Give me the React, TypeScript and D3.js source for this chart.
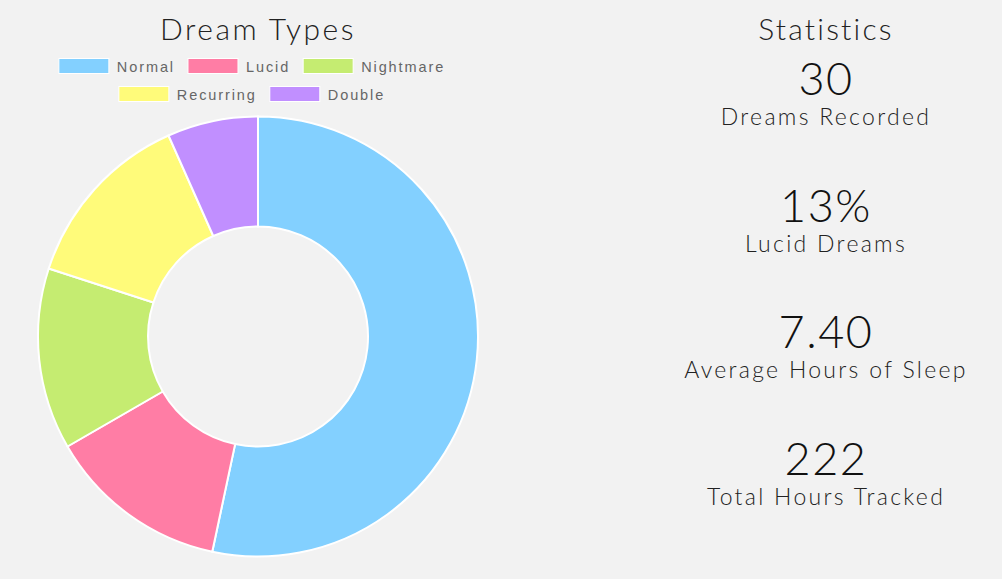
import React from "react";
import * as d3 from "d3";

const categories = ["Normal", "Lucid", "Nightmare", "Recurring", "Double"];
const counts = [16, 4, 4, 4, 2];
const colors = ["#83d0ff", "#ff7da5", "#c5ec71", "#fffb7a", "#c18fff"];
const statValues = ["30", "13%", "7.40", "222"];
const statLabels = ["Dreams Recorded", "Lucid Dreams", "Average Hours of Sleep", "Total Hours Tracked"];

const W = 1002;
const H = 579;
const cx = 258;
const cy = 336.5;
const outerR = 220;
const innerR = 110;

export default function App() {
  const pie = d3.pie<number>().sort(null).value((d) => d)(counts);
  const arc = d3.arc<d3.PieArcDatum<number>>().innerRadius(innerR).outerRadius(outerR);
  const font = "Lato, 'Open Sans', sans-serif";
  const legendRows = [[0, 1, 2], [3, 4]];
  const ctx = typeof document !== "undefined" ? document.createElement("canvas").getContext("2d") : null;
  const legendFontSize = 14.5;
  const legendSpacing = 1.9;
  const legendFont = `${legendFontSize}px 'Liberation Sans', Arial, sans-serif`;
  const measure = (t: string) => {
    if (!ctx) return t.length * 9;
    ctx.font = legendFont;
    return ctx.measureText(t).width + t.length * legendSpacing;
  };
  const boxW = 50;
  const gap = 13;
  const itemGap = 8;
  const legendCx = 252;
  return (
    <div style={{ position: "fixed", left: 0, top: 0 }}>
      <svg width={W} height={H} style={{ display: "block", background: "#f2f2f2" }}>
        <rect x={0} y={0} width={W} height={H} fill="#f2f2f2" />
        <text x={cx} y={40} textAnchor="middle" fontFamily={font} fontWeight={300} fontSize={30} fill="#222" letterSpacing={2.5}>
          Dream Types
        </text>
        {legendRows.map((row, ri) => {
          const widths = row.map((i) => boxW + itemGap + measure(categories[i]));
          const total = d3.sum(widths) + gap * (row.length - 1);
          let x = legendCx - total / 2;
          const y = 58.5 + ri * 28;
          return row.map((i, k) => {
            const x0 = x;
            x += widths[k] + gap;
            return (
              <g key={i}>
                <rect x={x0} y={y} width={boxW} height={15} fill={colors[i]} stroke="#fff" strokeWidth={1} />
                <text x={x0 + boxW + itemGap} y={y + 13} fontFamily="'Liberation Sans', Arial, sans-serif" fontSize={legendFontSize} fill="#666" letterSpacing={legendSpacing}>
                  {categories[i]}
                </text>
              </g>
            );
          });
        })}
        <g transform={`translate(${cx},${cy})`}>
          {pie.map((d, i) => (
            <path key={i} d={arc(d) || ""} fill={colors[i]} stroke="#fff" strokeWidth={2} />
          ))}
        </g>
        <text x={826} y={40} textAnchor="middle" fontFamily={font} fontWeight={300} fontSize={30} fill="#222" letterSpacing={2.2}>
          Statistics
        </text>
        {statValues.map((v, i) => (
          <g key={i}>
            <text x={826} y={95 + i * 126.5} textAnchor="middle" fontFamily={font} fontWeight={300} fontSize={45} fill="#111" letterSpacing={1.5}>
              {v}
            </text>
            <text x={826} y={125 + i * 126.5} textAnchor="middle" fontFamily={font} fontWeight={300} fontSize={23} fill="#222" letterSpacing={2.3}>
              {statLabels[i]}
            </text>
          </g>
        ))}
      </svg>
    </div>
  );
}
